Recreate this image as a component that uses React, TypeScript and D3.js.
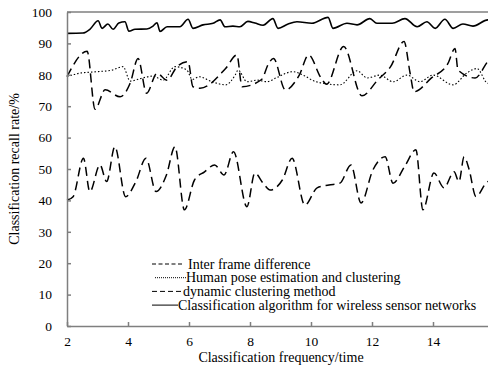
import React, { useEffect, useRef } from "react";
import * as d3 from "d3";

// series data (x = classification frequency, y = recall rate %)
const wsnX = [2.0, 2.52, 2.75, 3.02, 3.15, 3.34, 3.51, 3.7, 3.9, 4.03, 4.23, 4.62, 4.82, 4.95, 5.05, 5.28, 5.7, 5.97, 6.13, 6.46, 6.79, 7.02, 7.18, 7.44, 7.67, 7.93, 8.16, 8.43, 8.75, 8.92, 9.25, 9.54, 10.03, 10.56, 10.72, 11.18, 11.51, 11.93, 12.16, 12.66, 13.08, 13.48, 13.8, 14.07, 14.39, 14.66, 14.98, 15.31, 15.8, 16.0];
const wsnY = [93.2, 93.3, 94.5, 97.2, 94.8, 96.2, 94.5, 96.5, 96.9, 93.9, 94.5, 94.6, 95.5, 96.6, 93.8, 95.3, 95.3, 97.7, 94.8, 95.9, 96.4, 97.5, 95.3, 95.5, 95.3, 97.0, 96.5, 95.8, 97.9, 94.8, 96.2, 96.9, 96.4, 98.3, 94.8, 96.4, 95.9, 97.9, 96.4, 96.4, 97.9, 95.3, 96.9, 94.8, 97.7, 94.8, 96.2, 95.5, 97.5, 96.5];

const poseX = [2.0, 2.41, 3.0, 3.48, 3.84, 4.07, 4.48, 4.82, 5.15, 5.54, 5.93, 6.11, 6.33, 6.75, 7.2, 7.52, 7.61, 7.9, 8.23, 8.56, 8.85, 9.41, 9.74, 10.16, 10.95, 11.51, 11.84, 12.26, 12.69, 13.15, 13.57, 14.0, 14.66, 15.1, 15.44, 15.8, 16.0];
const poseY = [79.4, 80.5, 81.0, 81.5, 82.6, 78.0, 79.0, 79.6, 78.3, 82.6, 81.5, 78.5, 79.4, 77.8, 76.8, 80.0, 81.5, 77.8, 78.3, 77.8, 79.0, 81.0, 79.9, 77.8, 76.8, 81.3, 79.0, 79.9, 77.8, 79.9, 77.8, 79.9, 76.8, 80.5, 82.0, 77.3, 79.0];

const dynX = [2.0, 2.66, 2.92, 3.25, 3.74, 4.07, 4.33, 4.61, 4.95, 5.28, 5.61, 5.97, 6.13, 6.36, 7.2, 7.57, 7.74, 8.38, 8.61, 8.77, 9.16, 9.62, 9.92, 10.33, 10.51, 11.07, 11.67, 12.2, 12.61, 13.05, 13.25, 13.38, 13.95, 14.49, 14.72, 14.82, 15.38, 15.84, 16.0];
const dynY = [79.4, 87.5, 69.0, 75.2, 73.0, 77.3, 85.2, 74.1, 80.5, 78.3, 82.6, 84.2, 76.2, 75.7, 82.0, 86.3, 76.2, 78.5, 83.6, 85.2, 75.2, 80.0, 86.3, 79.0, 77.0, 89.0, 73.3, 78.5, 82.6, 90.6, 80.5, 74.6, 79.0, 83.6, 88.4, 81.5, 79.0, 84.7, 85.8];

const interX = [2.0, 2.2, 2.54, 2.75, 3.08, 3.3, 3.57, 3.92, 4.26, 4.59, 4.92, 5.26, 5.54, 5.85, 6.18, 6.51, 6.84, 7.15, 7.46, 7.9, 8.16, 8.43, 8.66, 9.06, 9.38, 9.8, 10.2, 10.59, 10.95, 11.31, 11.64, 12.03, 12.43, 12.69, 13.08, 13.44, 13.67, 14.03, 14.36, 14.69, 14.85, 15.02, 15.18, 15.41, 15.74, 16.0];
const interY = [40.1, 41.2, 53.4, 42.8, 51.3, 46.0, 57.1, 41.2, 46.0, 53.4, 42.8, 48.1, 57.1, 37.0, 46.5, 49.1, 51.3, 48.1, 55.5, 38.0, 48.7, 45.5, 43.3, 46.5, 53.4, 38.5, 44.0, 44.9, 45.5, 51.3, 39.2, 49.7, 53.9, 45.5, 51.0, 56.1, 37.0, 48.7, 44.0, 49.1, 46.0, 53.9, 50.0, 41.2, 45.5, 47.0];

const seriesNames = [
  "Inter frame difference",
  "Human pose estimation and clustering",
  "dynamic clustering method",
  "Classification algorithm for wireless sensor networks",
];

const xTicks = [2, 4, 6, 8, 10, 12, 14, 16];
const yTicks = [0, 10, 20, 30, 40, 50, 60, 70, 80, 90, 100];

const App = () => {
  const svgRef = useRef<SVGSVGElement>(null);

  const width = 488;
  const height = 367;
  const marginLeft = 67;
  const marginTop = 12;
  const plotRight = 494; // plot runs past the window edge
  const plotBottom = 326;
  const font = "Liberation Serif";
  const axisColor = "#7f7f7f";

  useEffect(() => {
    if (!svgRef.current) return;
    const svg = d3.select(svgRef.current);
    svg.selectAll("*").remove();

    const x = d3.scaleLinear().domain([2, 16]).range([marginLeft, plotRight]);
    const y = d3.scaleLinear().domain([0, 100]).range([plotBottom, marginTop]);

    const line = d3
      .line<[number, number]>()
      .x((d) => x(d[0]))
      .y((d) => y(d[1]))
      .curve(d3.curveMonotoneX);

    const zip = (xs: number[], ys: number[]) =>
      xs.map((v, i) => [v, ys[i]] as [number, number]);

    const series = [
      { xs: interX, ys: interY, dash: "9,5", w: 1.5 },
      { xs: poseX, ys: poseY, dash: "1.5,2", w: 1.1 },
      { xs: dynX, ys: dynY, dash: "9,5", w: 1.5 },
      { xs: wsnX, ys: wsnY, dash: null, w: 1.6 },
    ];

    series.forEach((s) => {
      svg
        .append("path")
        .datum(zip(s.xs, s.ys))
        .attr("fill", "none")
        .attr("stroke", "#000")
        .attr("stroke-width", s.w)
        .attr("stroke-dasharray", s.dash)
        .attr("d", line);
    });

    // top border
    svg
      .append("line")
      .attr("x1", marginLeft)
      .attr("x2", plotRight)
      .attr("y1", marginTop)
      .attr("y2", marginTop)
      .attr("stroke", axisColor)
      .attr("stroke-width", 1.5);

    // x axis (ticks point inward)
    const xAxis = svg
      .append("g")
      .attr("transform", `translate(0,${plotBottom})`)
      .call(
        d3
          .axisBottom(x)
          .tickValues(xTicks)
          .tickSizeInner(-4)
          .tickSizeOuter(0)
          .tickPadding(10),
      )
      .attr("font-family", font)
      .attr("font-size", 13.5);
    xAxis.selectAll("path, line").attr("stroke", axisColor).attr("stroke-width", 1.5);
    xAxis.selectAll("text").attr("fill", "#000");

    // y axis
    const yAxis = svg
      .append("g")
      .attr("transform", `translate(${marginLeft},0)`)
      .call(
        d3
          .axisLeft(y)
          .tickValues(yTicks)
          .tickSizeInner(-4)
          .tickSizeOuter(0)
          .tickPadding(15),
      )
      .attr("font-family", font)
      .attr("font-size", 13.5);
    yAxis.selectAll("path, line").attr("stroke", axisColor).attr("stroke-width", 1.5);
    yAxis.selectAll("text").attr("fill", "#000");

    // axis labels
    svg
      .append("text")
      .attr("x", 281)
      .attr("y", 362)
      .attr("text-anchor", "middle")
      .attr("font-family", font)
      .attr("font-size", 14)
      .text("Classification frequency/time");

    svg
      .append("text")
      .attr("transform", `translate(19,${(marginTop + plotBottom) / 2}) rotate(-90)`)
      .attr("text-anchor", "middle")
      .attr("font-family", font)
      .attr("font-size", 14)
      .text("Classification recall rate/%");

    // legend
    const legendRows = [
      { x1: 152, x2: 183, tx: 188, dash: "4,2.5", w: 1 },
      { x1: 155, x2: 186, tx: 186, dash: "1,1", w: 1 },
      { x1: 152, x2: 183, tx: 183, dash: "5,3", w: 1 },
      { x1: 152, x2: 178, tx: 178, dash: null, w: 1 },
    ];
    legendRows.forEach((r, i) => {
      const cy = 264 + i * 13.7;
      svg
        .append("line")
        .attr("x1", r.x1)
        .attr("x2", r.x2)
        .attr("y1", cy)
        .attr("y2", cy)
        .attr("stroke", "#000")
        .attr("stroke-width", r.w)
        .attr("stroke-dasharray", r.dash);
      svg
        .append("text")
        .attr("x", r.tx)
        .attr("y", cy + 4.5)
        .attr("font-family", font)
        .attr("font-size", 14)
        .text(seriesNames[i]);
    });
  }, []);

  return (
    <svg
      ref={svgRef}
      width={width}
      height={height}
      style={{ position: "absolute", left: 0, top: 0, background: "#fff" }}
    ></svg>
  );
};

export default App;
